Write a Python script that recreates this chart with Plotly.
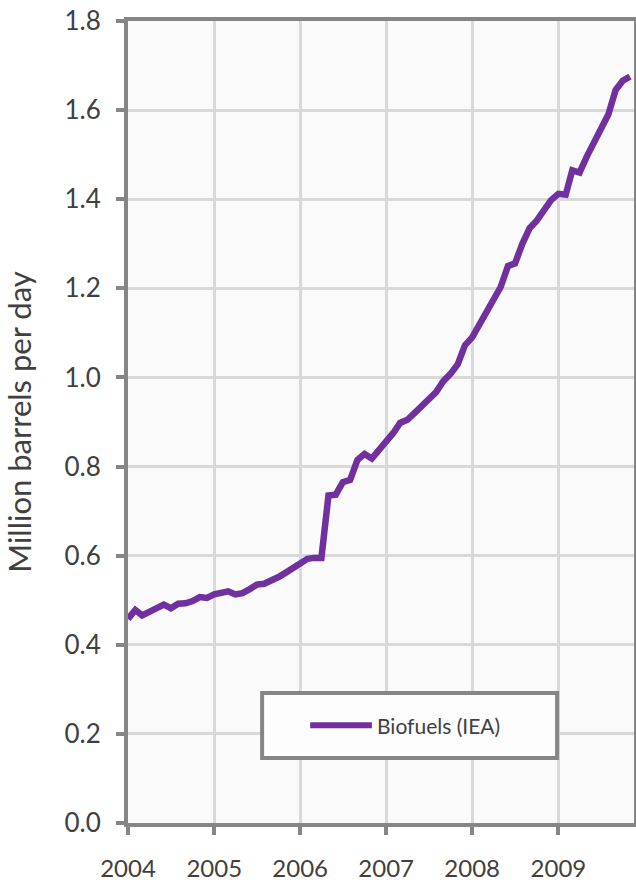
import pandas as pd
import plotly.graph_objects as go

# monthly biofuels supply, million barrels per day (IEA), Jan 2004 - Nov 2009
months = pd.date_range("2004-01-01", periods=71, freq="MS")
biofuels = [
    0.458, 0.478, 0.466, 0.474, 0.481, 0.490, 0.482, 0.492, 0.493, 0.498, 0.507, 0.505,
    0.513, 0.518, 0.520, 0.513, 0.516, 0.525, 0.535, 0.537, 0.544, 0.552, 0.562, 0.572,
    0.582, 0.593, 0.595, 0.595, 0.735, 0.737, 0.765, 0.770, 0.815, 0.828, 0.818, 0.836,
    0.860, 0.876, 0.898, 0.905, 0.920, 0.937, 0.952, 0.967, 0.992, 1.008, 1.030, 1.072,
    1.090, 1.120, 1.142, 1.175, 1.203, 1.250, 1.256, 1.300, 1.335, 1.352, 1.377, 1.398,
    1.412, 1.410, 1.465, 1.460, 1.495, 1.525, 1.555, 1.590, 1.645, 1.666, 1.675,
]
year_ticks = ["2004-01-01", "2005-01-01", "2006-01-01", "2007-01-01", "2008-01-01", "2009-01-01"]
year_labels = ["2004", "2005", "2006", "2007", "2008", "2009"]
y_ticks = [0.0, 0.2, 0.4, 0.6, 0.8, 1.0, 1.2, 1.4, 1.6, 1.8]
legend_label = "Biofuels (IEA)"

purple = "#7030a0"
axis_grey = "#868686"
grid_grey = "#d9d9d9"
text_grey = "#404040"

fig = go.Figure()
fig.add_trace(go.Scatter(
    x=months, y=biofuels, mode="lines", name=legend_label,
    line=dict(color=purple, width=6.5), showlegend=False,
))

# legend box drawn by hand (long line sample like the original)
fig.add_shape(type="rect", xref="paper", yref="paper",
              x0=0.265, x1=0.848, y0=0.081, y1=0.162,
              line=dict(color=axis_grey, width=4), fillcolor="#fdfdfd", layer="above")
fig.add_shape(type="line", xref="paper", yref="paper",
              x0=0.360, x1=0.482, y0=0.122, y1=0.122,
              line=dict(color=purple, width=6), layer="above")
fig.add_annotation(xref="paper", yref="paper", x=0.488, y=0.122,
                   xanchor="left", yanchor="middle", showarrow=False,
                   text=legend_label, font=dict(size=21, color=text_grey))

fig.update_xaxes(
    type="date", range=["2004-01-01", "2009-11-18"],
    tickvals=year_ticks, ticktext=year_labels,
    showgrid=True, gridcolor=grid_grey, gridwidth=3,
    showline=True, linecolor=axis_grey, linewidth=4, mirror=True,
    ticks="outside", ticklen=8, tickwidth=4, tickcolor=axis_grey,
    ticklabelstandoff=13, tickfont=dict(size=24, color=text_grey),
    ticklabeloverflow="allow",
    zeroline=False, automargin=False,
)
fig.update_yaxes(
    range=[0, 1.8], tickvals=y_ticks, tickformat=".1f",
    showgrid=True, gridcolor=grid_grey, gridwidth=3,
    showline=True, linecolor=axis_grey, linewidth=4, mirror=True,
    ticks="outside", ticklen=8, tickwidth=4, tickcolor=axis_grey,
    ticklabelstandoff=10, tickfont=dict(size=26, color=text_grey),
    ticklabeloverflow="allow",
    title=dict(text="Million barrels per day", standoff=32,
               font=dict(size=31, color=text_grey)),
    zeroline=False, automargin=False,
)
fig.update_layout(
    width=636, height=883,
    margin=dict(l=128, r=2, t=21, b=60),
    paper_bgcolor="white", plot_bgcolor="#fafafa",
    font=dict(family="Lato, 'Open Sans', sans-serif", color=text_grey),
)

# drop the browser's default 8px body margin so the figure fills the window
fig.write_html("out.html", config={"displayModeBar": False},
               post_script="document.body.style.margin = '0';")
